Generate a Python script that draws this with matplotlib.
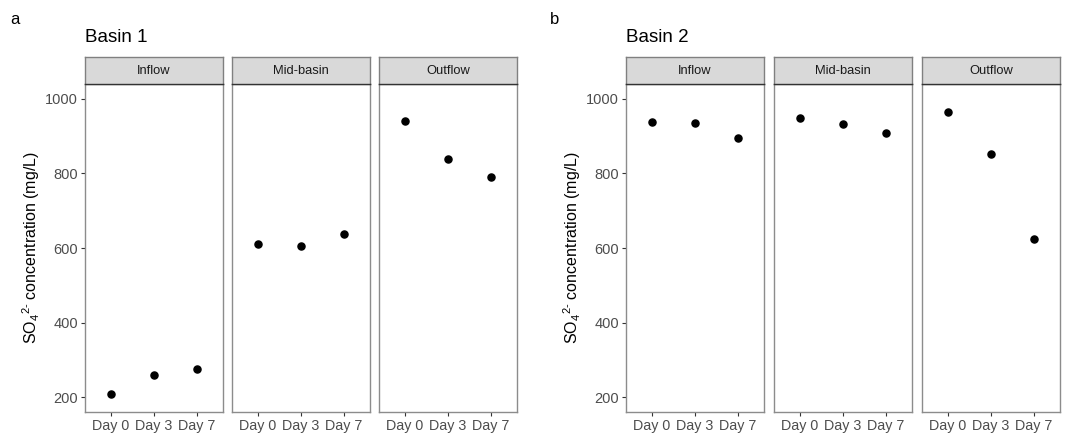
"""Sulfate concentration by sampling day for two basins"""
import matplotlib
matplotlib.use('Agg')
import matplotlib.pyplot as plt

plt.rcParams['font.family'] = ['Liberation Sans', 'DejaVu Sans']
plt.rcParams['mathtext.fontset'] = 'custom'
plt.rcParams['mathtext.rm'] = 'Liberation Sans'
plt.rcParams['mathtext.it'] = 'Liberation Sans'

days = ['Day 0', 'Day 3', 'Day 7']
sites = ['Inflow', 'Mid-basin', 'Outflow']

basin1_inflow = [208, 258, 276]
basin1_mid = [611, 605, 638]
basin1_outflow = [942, 840, 790]

basin2_inflow = [938, 935, 894]
basin2_mid = [949, 933, 909]
basin2_outflow = [966, 851, 623]

yticks = [200, 400, 600, 800, 1000]

W, H = 1077, 442
fig = plt.figure(figsize=(W / 100, H / 100), dpi=100)

def px_axes(x0, y0, w, h):
    # pixel box (top-left origin) -> figure axes
    return fig.add_axes([x0 / W, 1 - (y0 + h) / H, w / W, h / H])

def draw_basin(lefts, values, title, letter, letter_x, ylabel_x):
    for i, (x0, site, vals) in enumerate(zip(lefts, sites, values)):
        ax = px_axes(x0, 84, 138, 328)
        ax.scatter(range(len(days)), vals, s=26, color='black', zorder=3)
        ax.set_xlim(-0.6, 2.6)
        ax.set_ylim(160, 1040)
        ax.set_xticks(range(len(days)))
        ax.set_xticklabels(days, fontsize=10.3, color='#4D4D4D')
        ax.set_yticks(yticks)
        if i == 0:
            ax.set_yticklabels(yticks, fontsize=10.5, color='#4D4D4D')
        else:
            ax.tick_params(axis='y', left=False, labelleft=False)
        ax.tick_params(length=3, width=0.8, color='#333333', pad=2)
        for sp in ax.spines.values():
            sp.set_color('#8C8C8C')
            sp.set_linewidth(1.0)

        # facet strip
        st = px_axes(x0, 57, 138, 27)
        st.set_facecolor('#D9D9D9')
        st.set_xticks([])
        st.set_yticks([])
        for sp in st.spines.values():
            sp.set_color('#808080')
            sp.set_linewidth(1.0)
        st.spines['bottom'].set_color('#333333')
        st.text(0.5, 0.5, site, ha='center', va='center', fontsize=9.3,
                color='#1A1A1A', transform=st.transAxes)

    fig.text(lefts[0] / W, 1 - 37 / H, title, fontsize=13.5, ha='left', va='center')
    fig.text(letter_x / W, 1 - 19 / H, letter, fontsize=12, ha='left', va='center')
    fig.text(ylabel_x / W, 1 - 248 / H, r'SO$_4$$^{2\text{-}}$ concentration (mg/L)',
             rotation=90, fontsize=11.5, ha='center', va='center')

draw_basin([85, 232, 379], [basin1_inflow, basin1_mid, basin1_outflow],
           'Basin 1', 'a', 10, 31)
draw_basin([626, 774, 922], [basin2_inflow, basin2_mid, basin2_outflow],
           'Basin 2', 'b', 550, 572)

fig.savefig('out.png', dpi=100)
